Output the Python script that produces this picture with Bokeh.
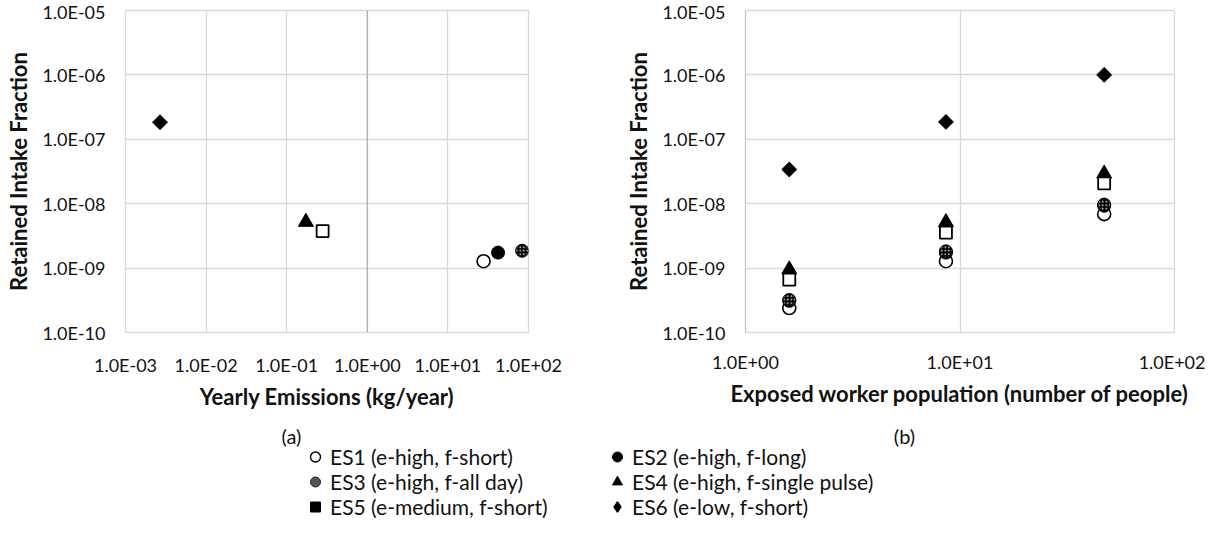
from bokeh.plotting import figure
from bokeh.models import (Range1d, FixedTicker, CustomJSTickFormatter, Span,
                          Legend, LegendItem, Label)
from bokeh.layouts import column, row
from bokeh.embed import file_html
from bokeh.resources import INLINE

# ---------------- data ----------------
series = ["ES1 (e-high, f-short)", "ES2 (e-high, f-long)", "ES3 (e-high, f-all day)",
          "ES4 (e-high, f-single pulse)", "ES5 (e-medium, f-short)", "ES6 (e-low, f-short)"]

# panel (a): yearly emissions (kg/year) vs retained intake fraction
emissions = [27.7, 41.9, 83.3, 0.173, 0.279, 0.00268]
intake_a = [1.28e-9, 1.74e-9, 1.86e-9, 5.2e-9, 3.76e-9, 1.84e-7]

# panel (b): exposed worker population vs retained intake fraction
workers = [1.6, 8.6, 47.0]
es1_b = [2.4e-10, 1.28e-9, 6.9e-9]
es2_b = [3.1e-10, 1.74e-9, 9.3e-9]
es3_b = [3.2e-10, 1.82e-9, 9.7e-9]
es4_b = [9.5e-10, 5.15e-9, 2.92e-8]
es5_b = [6.6e-10, 3.55e-9, 2.07e-8]
es6_b = [3.4e-8, 1.86e-7, 1.0e-6]
intake_b = [es1_b, es2_b, es3_b, es4_b, es5_b, es6_b]

x_ticks_a = [1e-3, 1e-2, 1e-1, 1e0, 1e1, 1e2]
x_ticks_b = [1e0, 1e1, 1e2]
y_ticks = [1e-10, 1e-9, 1e-8, 1e-7, 1e-6, 1e-5]

# ---------------- styles ----------------
FONT = "Lato"
TXT = "#111111"
GRID = "#d9d9d9"
NAN = float("nan")

styles = [
    dict(marker="circle", size=13, fill_color="white", line_color="black", line_width=1.6),
    dict(marker="circle", size=13, fill_color="black", line_color="black", line_width=1),
    dict(marker="circle", size=13, fill_color="black", line_color="black", line_width=1,
         hatch_pattern="dot", hatch_color="#e6e6e6", hatch_scale=3.5, hatch_weight=0.7),
    dict(marker="triangle", size=15, fill_color="black", line_color="black", line_width=1),
    dict(marker="square", size=12, fill_color="white", line_color="black", line_width=1.8),
    dict(marker="square", size=10.5, angle=0.785398, fill_color="black", line_color="black",
         line_width=1),
]
legend_styles = [
    dict(marker="circle", fill_color="white", line_color="black", line_width=1.4),
    dict(marker="circle", fill_color="black", line_color="black"),
    dict(marker="circle", fill_color="#555555", line_color="#222222"),
    dict(marker="triangle", fill_color="black", line_color="black"),
    dict(marker="square", fill_color="black", line_color="black"),
    dict(marker="diamond", fill_color="black", line_color="black", line_width=1.5),
]

fmt = CustomJSTickFormatter(code="""
const s = tick.toExponential(1).toUpperCase();
const i = s.indexOf("E");
const sign = s.charAt(i + 1);
let d = s.slice(i + 2);
if (d.length < 2) { d = "0" + d; }
return s.slice(0, i + 1) + sign + d;
""")


def make_fig(width, xr, xt, b_left, b_right, b_bottom, xlabel, x_standoff):
    p = figure(width=width, height=412, x_axis_type="log", y_axis_type="log",
               x_range=Range1d(*xr), y_range=Range1d(y_ticks[0], y_ticks[-1]),
               output_backend="svg", toolbar_location=None,
               min_border_left=b_left, min_border_right=b_right,
               min_border_top=10, min_border_bottom=b_bottom)
    p.xaxis.ticker = FixedTicker(ticks=xt, minor_ticks=[])
    p.yaxis.ticker = FixedTicker(ticks=y_ticks, minor_ticks=[])
    p.axis.formatter = fmt
    p.axis.axis_line_color = None
    p.axis.major_tick_line_color = None
    p.axis.minor_tick_line_color = None
    p.axis.major_tick_out = 0
    p.axis.major_tick_in = 0
    p.axis.minor_tick_out = 0
    p.axis.minor_tick_in = 0
    p.axis.major_label_text_font = FONT
    p.axis.major_label_text_font_size = "18px"
    p.axis.major_label_text_color = TXT
    p.axis.axis_label_text_font = FONT
    p.axis.axis_label_text_font_size = "22px"
    p.axis.axis_label_text_font_style = "bold"
    p.axis.axis_label_text_color = TXT
    p.xaxis.major_label_standoff = x_standoff
    p.yaxis.major_label_standoff = 20
    p.xaxis.axis_label_standoff = 4
    p.yaxis.axis_label_standoff = 7
    p.xaxis.axis_label = xlabel
    p.yaxis.axis_label = "Retained Intake Fraction"
    p.grid.grid_line_color = GRID
    p.grid.grid_line_width = 1.3
    p.outline_line_color = GRID
    p.outline_line_width = 1.3
    p.background_fill_color = "white"
    p.border_fill_color = "white"
    return p


# ---------------- panel (a) ----------------
pa = make_fig(600, (x_ticks_a[0], x_ticks_a[-1]), x_ticks_a, 125, 72, 74,
              "Yearly Emissions (kg/year)", 21)
pa.add_layout(Span(location=1.0, dimension="height", line_color="#b0b0b0", line_width=1.3))
for i in range(len(series)):
    pa.scatter(x=[emissions[i]], y=[intake_a[i]], **styles[i])

# ---------------- panel (b) ----------------
pb = make_fig(605, (x_ticks_b[0], x_ticks_b[-1]), x_ticks_b, 145, 31, 71,
              "Exposed worker population (number of people)", 18)
pb.yaxis.axis_line_color = "#c0c0c0"
for i in range(len(series)):
    pb.scatter(x=workers, y=intake_b[i], **styles[i])

# ---------------- captions + legend ----------------
pl = figure(width=1205, height=107, x_range=Range1d(0, 1205), y_range=Range1d(107, 0),
            output_backend="svg", toolbar_location=None, min_border=0,
            x_axis_location=None, y_axis_location=None)
pl.grid.visible = False
pl.outline_line_color = None

pl.add_layout(Label(x=291, y=23, text="(a)", text_align="center", text_baseline="middle",
                    text_font=FONT, text_font_size="20px", text_color=TXT))
pl.add_layout(Label(x=904, y=23, text="(b)", text_align="center", text_baseline="middle",
                    text_font=FONT, text_font_size="20px", text_color=TXT))

# legend swatches only (no visible data points)
rends = [pl.scatter(x=[NAN], y=[NAN], **legend_styles[i]) for i in range(len(series))]


def make_legend(idx, loc):
    return Legend(items=[LegendItem(label=series[i], renderers=[rends[i]]) for i in idx],
                  location=loc, orientation="vertical", glyph_width=30, glyph_height=25,
                  label_height=25, label_standoff=0, spacing=0, padding=0, margin=0,
                  border_line_color=None, background_fill_alpha=0,
                  label_text_font=FONT, label_text_font_size="21px",
                  label_text_color=TXT, label_text_baseline="middle")


pl.add_layout(make_legend([0, 2, 4], (300, 0)))
pl.add_layout(make_legend([1, 3, 5], (602, 0)))

layout = column(row(pa, pb, spacing=0), pl, spacing=0)
open("out.html", "w").write(file_html(layout, INLINE))
